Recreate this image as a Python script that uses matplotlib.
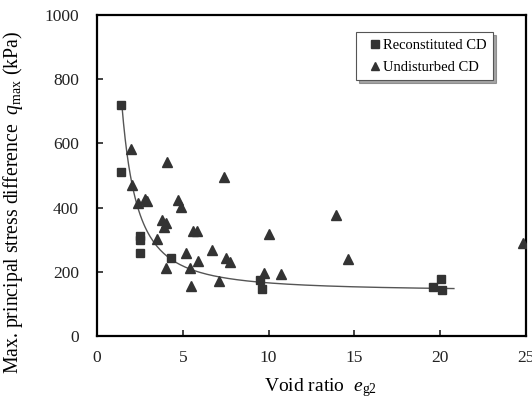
import numpy as np
import matplotlib
matplotlib.use("Agg")
import matplotlib.pyplot as plt

plt.rcParams['font.family'] = ['Liberation Serif', 'DejaVu Serif']
plt.rcParams['mathtext.fontset'] = 'custom'
plt.rcParams['mathtext.rm'] = 'Liberation Serif'
plt.rcParams['mathtext.it'] = 'Liberation Serif:italic'

# reconstituted CD specimens
recon_e = [1.4, 1.4, 2.5, 2.5, 2.5, 4.3, 9.5, 9.6, 19.6, 20.05, 20.1]
recon_q = [720, 511, 311, 299, 259, 242, 174, 145, 154, 179, 143]

# undisturbed CD specimens
undist_e = [2.0, 4.1, 7.4, 2.05, 2.4, 2.8, 2.9, 4.7, 4.9, 3.8, 4.0, 3.9,
            5.6, 5.8, 3.5, 10.0, 5.2, 5.9, 6.7, 7.5, 7.75, 4.0, 5.4, 5.45,
            7.1, 9.75, 10.75, 13.95, 14.65, 24.85]
undist_q = [582, 543, 496, 469, 415, 427, 419, 424, 401, 361, 353, 341,
            328, 328, 301, 318, 258, 234, 268, 244, 231, 211, 211, 156,
            171, 197, 192, 377, 240, 291]

# fitted trend q = q0 + b * e^-c
q0, b, c = 140.0, 1059.0, 1.62
e_fit = np.linspace(1.45, 20.8, 200)
q_fit = q0 + b * e_fit ** (-c)

fig = plt.figure(figsize=(5.32, 4.05), dpi=100)
ax = fig.add_axes([0.1823, 0.1704, 0.8064, 0.7926])

ax.plot(e_fit, q_fit, color='#555555', lw=1.0, zorder=2)
ax.plot(recon_e, recon_q, 's', color='#333333', ms=6, ls='none',
        label='Reconstituted CD', zorder=3)
ax.plot(undist_e, undist_q, '^', color='#333333', ms=6.5, ls='none',
        label='Undisturbed CD', zorder=3)

ax.set_xlim(0, 25)
ax.set_ylim(0, 1000)
ax.set_xticks([0, 5, 10, 15, 20, 25])
ax.set_yticks([0, 200, 400, 600, 800, 1000])
ax.tick_params(direction='in', length=4, width=1.2, labelsize=12.5,
               colors='#222222')
ax.tick_params(axis='x', pad=10)
ax.tick_params(axis='y', pad=13)
for s in ax.spines.values():
    s.set_linewidth(1.6)

ax.set_xlabel(r'Void ratio  $e_{\rm g2}$', fontsize=14)
ax.set_ylabel(r'Max. principal stress difference  $q_{\rm max}$ (kPa)',
              fontsize=14.2)
ax.xaxis.set_label_coords(0.52, -0.125)
ax.yaxis.set_label_coords(-0.168, 0.416)

leg = ax.legend(loc='upper right', bbox_to_anchor=(0.923, 0.947),
                fontsize=10.5, frameon=True, fancybox=False, shadow=True,
                handlelength=1.8, handletextpad=-0.4, markerscale=0.9,
                borderpad=0.45, borderaxespad=0.0, labelspacing=0.6)
leg.get_frame().set_edgecolor('#555555')
leg.get_frame().set_linewidth(0.8)

fig.savefig('out.png', dpi=100)
